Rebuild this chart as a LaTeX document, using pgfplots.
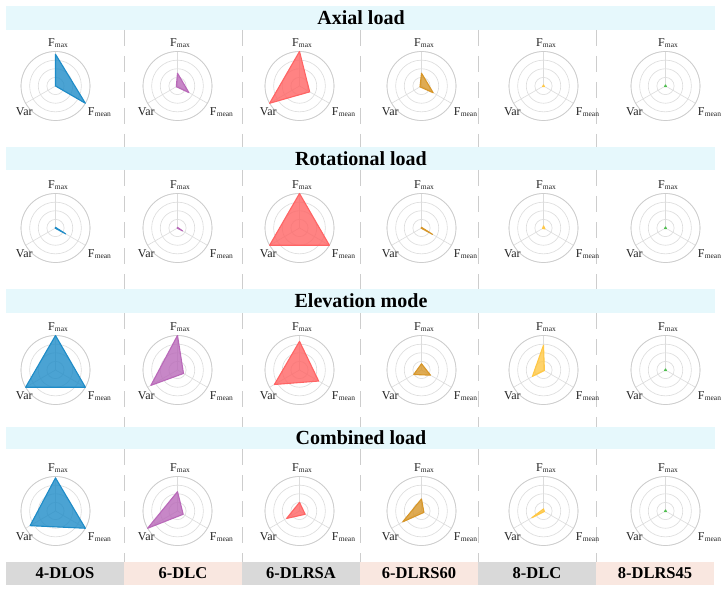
\documentclass[border=0pt]{standalone}
\usepackage{pgfplots}
\pgfplotsset{compat=1.18}
\usepgfplotslibrary{polar}
\usepackage{fontspec}
\setmainfont{Liberation Serif}

\definecolor{cBlue}{RGB}{30,140,200}
\definecolor{cPurple}{RGB}{185,105,185}
\definecolor{cRed}{RGB}{255,100,100}
\definecolor{cGold}{RGB}{215,150,40}
\definecolor{cYellow}{RGB}{255,200,70}
\definecolor{cGreen}{RGB}{80,190,80}
\definecolor{bandCyan}{RGB}{230,248,252}
\definecolor{cellGrey}{RGB}{217,217,217}
\definecolor{cellPink}{RGB}{249,231,224}
\definecolor{gridGrey}{RGB}{220,220,220}
\definecolor{outGrey}{RGB}{205,205,205}
\definecolor{dashGrey}{RGB}{205,205,205}
\definecolor{lblGrey}{RGB}{35,35,35}

\newcommand{\Fs}[1]{F\kern0.2pt\raisebox{-0.9pt}{\fontsize{7.5}{8}\selectfont #1}}

\pgfplotsset{radar/.style={
  scale only axis, width=69pt, height=69pt, anchor=center,
  ymin=0, ymax=1,
  xtick={90,210,330}, xticklabels={},
  ytick={0.25,0.5,0.75,1}, yticklabels={},
  xmajorgrids=true, ymajorgrids=true,
  major grid style={draw=gridGrey, line width=0.6pt},
  separate axis lines,
  x axis line style={draw=outGrey, line width=0.7pt},
  y axis line style={draw=none},
  major tick length=0pt, clip=false,
}}

\newcommand{\radar}[6]{%
\begin{polaraxis}[radar, at={(#1pt,#2pt)}]
\addplot[draw=#6, fill=#6, fill opacity=0.8, line width=1.1pt, line join=round] coordinates {(90,#3) (330,#4) (210,#5)} -- cycle;
\node[anchor=south, inner sep=0pt, xshift=2.5pt, yshift=3.4pt, text=lblGrey, font=\fontsize{12}{12}\selectfont] at (axis cs:90,1) {\Fs{max}};
\node[anchor=north, inner sep=0pt, xshift=-1.3pt, yshift=-3.8pt, text=lblGrey, font=\fontsize{12}{12}\selectfont] at (axis cs:210,1) {Var};
\node[anchor=north west, inner sep=0pt, xshift=2.3pt, yshift=-3.8pt, text=lblGrey, font=\fontsize{12}{12}\selectfont] at (axis cs:330,1) {\Fs{mean}};
\end{polaraxis}}

\begin{document}
\begin{tikzpicture}[x=1pt,y=1pt]
\useasboundingbox (0,0) rectangle (722,590);
\fill[white] (0,0) rectangle (722,590);

% header bands (image y -> 590 - y)
\fill[bandCyan] (6,560) rectangle (715,584);
\fill[bandCyan] (6,420) rectangle (715,443);
\fill[bandCyan] (6,277) rectangle (715,301);
\fill[bandCyan] (6,141) rectangle (715,163);
\node[font=\bfseries\fontsize{20}{20}\selectfont] at (361,572) {Axial load};
\node[font=\bfseries\fontsize{20}{20}\selectfont] at (361,431.5) {Rotational load};
\node[font=\bfseries\fontsize{20}{20}\selectfont] at (361,289) {Elevation mode};
\node[font=\bfseries\fontsize{20}{20}\selectfont] at (361,152) {Combined load};

% bottom category cells
\fill[cellGrey] (6,5) rectangle (124,28);
\fill[cellPink] (124,5) rectangle (242,28);
\fill[cellGrey] (242,5) rectangle (360,28);
\fill[cellPink] (360,5) rectangle (478,28);
\fill[cellGrey] (478,5) rectangle (596,28);
\fill[cellPink] (596,5) rectangle (714,28);
\foreach \x/\t in {65/4-DLOS,183/6-DLC,301/6-DLRSA,419/6-DLRS60,537/8-DLC,655/8-DLRS45}
  \node[font=\bfseries\fontsize{16.5}{16.5}\selectfont] at (\x,16.5) {\t};

% dashed separators
\foreach \x in {124,242,360,478,596} {
  \draw[dashGrey, line width=1pt, dash pattern=on 16pt off 10pt] (\x,560) -- (\x,443);
  \draw[dashGrey, line width=1pt, dash pattern=on 16pt off 10pt] (\x,420) -- (\x,301);
  \draw[dashGrey, line width=1pt, dash pattern=on 16pt off 10pt] (\x,277) -- (\x,163);
  \draw[dashGrey, line width=1pt, dash pattern=on 16pt off 10pt] (\x,141) -- (\x,28);
}

% Row 1: Axial load (center y = 590-86 = 504)
\radar{55.5}{504}{0.92}{1.00}{0.00}{cBlue}
\radar{177.5}{504}{0.37}{0.38}{0.04}{cPurple}
\radar{299.5}{504}{1.00}{0.34}{1.00}{cRed}
\radar{421.5}{504}{0.37}{0.39}{0.05}{cGold}
\radar{543.5}{504}{0.03}{0.03}{0.03}{cYellow}
\radar{665.5}{504}{0.03}{0.03}{0.03}{cGreen}

% Row 2: Rotational load (center y = 362)
\radar{55.5}{362}{0.02}{0.34}{0.01}{cBlue}
\radar{177.5}{362}{0.02}{0.17}{0.01}{cPurple}
\radar{299.5}{362}{1.00}{1.00}{1.00}{cRed}
\radar{421.5}{362}{0.02}{0.37}{0.01}{cGold}
\radar{543.5}{362}{0.06}{0.05}{0.03}{cYellow}
\radar{665.5}{362}{0.03}{0.03}{0.03}{cGreen}

% Row 3: Elevation mode (center y = 220)
\radar{55.5}{220}{1.00}{1.00}{1.00}{cBlue}
\radar{177.5}{220}{1.00}{0.20}{0.89}{cPurple}
\radar{299.5}{220}{0.83}{0.64}{0.84}{cRed}
\radar{421.5}{220}{0.18}{0.30}{0.26}{cGold}
\radar{543.5}{220}{0.72}{0.03}{0.37}{cYellow}
\radar{665.5}{220}{0.03}{0.03}{0.03}{cGreen}

% Row 4: Combined load (center y = 79)
\radar{55.5}{79}{0.96}{1.00}{0.85}{cBlue}
\radar{177.5}{79}{0.56}{0.19}{1.00}{cPurple}
\radar{299.5}{79}{0.25}{0.19}{0.43}{cRed}
\radar{421.5}{79}{0.35}{0.08}{0.63}{cGold}
\radar{543.5}{79}{0.06}{0.03}{0.39}{cYellow}
\radar{665.5}{79}{0.03}{0.03}{0.03}{cGreen}
\end{tikzpicture}
\end{document}
